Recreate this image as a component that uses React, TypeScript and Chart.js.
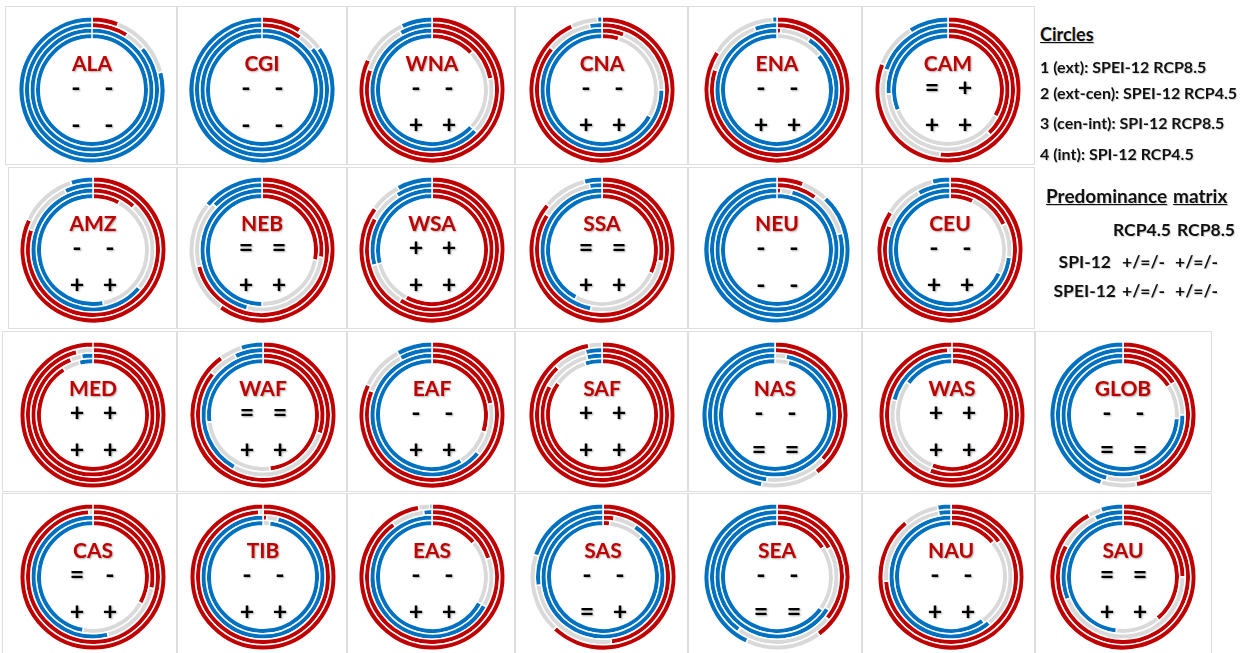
import React, { useEffect, useRef } from 'react';
import { Chart, registerables } from 'chart.js';

Chart.register(...registerables);

// Regions, in reading order
const regions = ['ALA','CGI','WNA','CNA','ENA','CAM','AMZ','NEB','WSA','SSA','NEU','CEU','MED','WAF','EAF','SAF','NAS','WAS','GLOB','CAS','TIB','EAS','SAS','SEA','NAU','SAU'];

// Category order of every ring: increase (+), no change (=), decrease (-)
const categories = ['+', '=', '-'];

// Ring 1 (ext): SPEI-12 RCP8.5  — [%+, %=, %-]
const ringExt = [
  [6,15,79],[9,6,85],[82,11,7],[93,6,1],[84,15,1],[81,10,9],
  [82,13,5],[60,26,14],[85,7,8],[86,10,4],[6,6,88],[84,12,4],
  [100,0,0],[90,5,5],[82,10,8],[97,3,0],[40,13,47],[100,0,0],[47,8,45],
  [100,0,0],[100,0,0],[97,2.5,0.5],[62,18,20],[40,17,43],[89,8,3],[92,3,5],
];
// Ring 2 (ext-cen): SPEI-12 RCP4.5
const ringExtCen = [
  [9,5,86],[10,4,86],[80,12,8],[86,11,3],[80,14.5,5.5],[52,28,20],
  [80,13,7],[71,16,13],[83,8,9],[84,13,3],[10,11,79],[81,11,8],
  [96,4,0],[86,7,7],[81,11,8],[88,8,4],[37,15,48],[99,1,0],[46,8,46],
  [99,1,0],[99,1,0],[90,8,2],[48,25,27],[36,24,40],[74,23,3],[83,10,7],
];
// Ring 3 (cen-int): SPI-12 RCP8.5
const ringCenInt = [
  [0,0,100],[0,0,100],[22,15,63],[6,19,75],[1,8,91],[38,36,26],
  [12,24,64],[27,27,46],[59,12,29],[28,25,47],[1,3,96],[18,9,73],
  [94,3,3],[30,28,42],[22,14,64],[83,13,4],[0,3,97],[56,23,21],[16,9,75],
  [28,18,54],[1,3,96],[20,13,67],[3,6,91],[17,17,66],[15,24,61],[25,44,31],
];
// Ring 4 (int): SPI-12 RCP4.5
const ringInt = [
  [0,0,100],[0,0,100],[13,24,63],[5,28,67],[0,14,86],[33,36,31],
  [8,39,53],[28,22,50],[58,13,29],[32,26,42],[0,0,100],[7,25,68],
  [91,5,4],[48,25,27],[30,11,59],[85,10,5],[0,4,96],[56,29,15],[16,10,74],
  [33,20,47],[0,2,98],[14,19,67],[2,10,88],[16,19,65],[14,26,60],[39,13,48],
];

// Predominance matrix per region: SPI-12 [RCP4.5, RCP8.5], SPEI-12 [RCP4.5, RCP8.5]
const spiSigns = [
  ['-','-'],['-','-'],['-','-'],['-','-'],['-','-'],['=','+'],
  ['-','-'],['=','='],['+','+'],['=','='],['-','-'],['-','-'],
  ['+','+'],['=','='],['-','-'],['+','+'],['-','-'],['+','+'],['-','-'],
  ['=','-'],['-','-'],['-','-'],['-','-'],['-','-'],['-','-'],['=','='],
];
const speiSigns = [
  ['-','-'],['-','-'],['+','+'],['+','+'],['+','+'],['+','+'],
  ['+','+'],['+','+'],['+','+'],['+','+'],['-','-'],['+','+'],
  ['+','+'],['+','+'],['+','+'],['+','+'],['=','='],['+','+'],['=','='],
  ['+','+'],['+','+'],['+','+'],['=','+'],['=','='],['+','+'],['+','+'],
];

const legendTitle = 'Circles';
const legendLines = ['1 (ext): SPEI-12 RCP8.5', '2 (ext-cen): SPEI-12 RCP4.5', '3 (cen-int): SPI-12 RCP8.5', '4 (int): SPI-12 RCP4.5'];
const matrixTitle = ['Predominance', 'matrix'];
const matrixCols = ['RCP4.5', 'RCP8.5'];
const matrixRows = ['SPI-12', 'SPEI-12'];
const matrixCell = '+/=/-';

// ---- layout (positions only) ----
const RED = '#C00000';
const GRAY = '#D9D9D9';
const BLUE = '#0070C0';
const SIZE = 148;

const rowLayout = [
  { y: 90, xs: [92, 262, 432, 602, 777, 948], top: 6, bottom: 165, edges: [5, 177, 347, 515, 688, 862, 1035] },
  { y: 250, xs: [93, 262, 432, 602, 777, 950], top: 167, bottom: 329, edges: [8, 177, 347, 515, 688, 862, 1035] },
  { y: 415, xs: [93, 263, 432, 602, 775, 952, 1123], top: 331, bottom: 492, edges: [2, 177, 347, 515, 688, 862, 1035, 1212] },
  { y: 577, xs: [93, 263, 432, 603, 777, 951, 1123], top: 493, bottom: 660, edges: [2, 177, 347, 515, 688, 862, 1035, 1212] },
];

const FONT = "Lato, 'Open Sans', sans-serif";
const shadow = '1px 1px 2px rgba(0,0,0,0.35)';

function Donut({ idx, cx, cy }: { idx: number; cx: number; cy: number }) {
  const ref = useRef<HTMLCanvasElement | null>(null);
  useEffect(() => {
    const rings = [ringExt, ringExtCen, ringCenInt, ringInt];
    const chart = new Chart(ref.current as HTMLCanvasElement, {
      type: 'doughnut',
      data: {
        labels: categories,
        datasets: rings.map((r) => ({
          data: r[idx],
          backgroundColor: [RED, GRAY, BLUE],
          borderColor: '#ffffff',
          borderWidth: 1.5,
        })),
      },
      options: {
        responsive: false,
        animation: false,
        cutout: '70%',
        events: [],
        plugins: { legend: { display: false }, tooltip: { enabled: false } },
      },
    });
    return () => chart.destroy();
  }, [idx]);
  const sym = (s: string, dx: number, dy: number) => (
    <div style={{ position: 'absolute', left: cx + dx - 15, top: cy + dy - 16, width: 30, height: 32, lineHeight: '32px', textAlign: 'center', font: `bold 25px ${FONT}`, color: '#000', textShadow: shadow }}>{s}</div>
  );
  return (
    <>
      <canvas ref={ref} width={SIZE} height={SIZE} style={{ position: 'absolute', left: cx - SIZE / 2, top: cy - SIZE / 2, width: SIZE, height: SIZE }} />
      <div style={{ position: 'absolute', left: cx - 50, top: cy - 40, width: 100, height: 28, lineHeight: '28px', textAlign: 'center', font: `bold 21px ${FONT}`, color: RED, textShadow: shadow }}>{regions[idx]}</div>
      {sym(spiSigns[idx][0], -16, -3)}
      {sym(spiSigns[idx][1], 17, -3)}
      {sym(speiSigns[idx][0], -16, 34)}
      {sym(speiSigns[idx][1], 17, 34)}
    </>
  );
}

export default function App() {
  let k = 0;
  const cells: JSX.Element[] = [];
  const donuts: JSX.Element[] = [];
  rowLayout.forEach((row, ri) => {
    for (let i = 0; i < row.edges.length - 1; i++) {
      cells.push(
        <div key={`c${ri}-${i}`} style={{ position: 'absolute', left: row.edges[i], top: row.top, width: row.edges[i + 1] - row.edges[i], height: row.bottom - row.top, border: '1px solid #dedede', boxSizing: 'border-box' }} />
      );
    }
    row.xs.forEach((x) => {
      const idx = k++;
      donuts.push(<Donut key={regions[idx]} idx={idx} cx={x} cy={row.y} />);
    });
  });
  // text positioned by its vertical centre
  const txt = (s: string, x: number, cy: number, size: number, extra: React.CSSProperties = {}) => (
    <div style={{ position: 'absolute', left: x, top: cy - 14, height: 28, lineHeight: '28px', font: `bold ${size}px ${FONT}`, color: '#111', whiteSpace: 'nowrap', textShadow: '1px 1px 1px rgba(0,0,0,0.2)', ...extra }}>{s}</div>
  );
  const rtxt = (s: string, right: number, cy: number, size: number) => (
    <div style={{ position: 'absolute', left: right - 100, width: 100, textAlign: 'right', top: cy - 14, height: 28, lineHeight: '28px', font: `bold ${size}px ${FONT}`, color: '#111', whiteSpace: 'nowrap', textShadow: '1px 1px 1px rgba(0,0,0,0.2)' }}>{s}</div>
  );
  return (
    <div style={{ position: 'absolute', left: 0, top: 0, width: 1254, height: 653, background: '#fff', overflow: 'hidden' }}>
      {cells}
      {donuts}
      {txt(legendTitle, 1040, 37, 18, { textDecoration: 'underline' })}
      {legendLines.map((l, i) => txt(l, 1040, [71, 97, 127, 158][i], 16))}
      {txt(matrixTitle[0], 1046, 198, 19, { textDecoration: 'underline' })}
      {txt(matrixTitle[1], 1173, 198, 19, { textDecoration: 'underline' })}
      {txt(matrixCols[0], 1113, 233, 17.5)}
      {txt(matrixCols[1], 1177, 233, 17.5)}
      {matrixRows.map((r, i) => (
        <React.Fragment key={r}>
          {rtxt(r, i === 0 ? 1111 : 1116, 265 + i * 29, 17.5)}
          {txt(matrixCell, 1122, 265 + i * 29, 17.5)}
          {txt(matrixCell, 1175, 265 + i * 29, 17.5)}
        </React.Fragment>
      ))}
    </div>
  );
}
